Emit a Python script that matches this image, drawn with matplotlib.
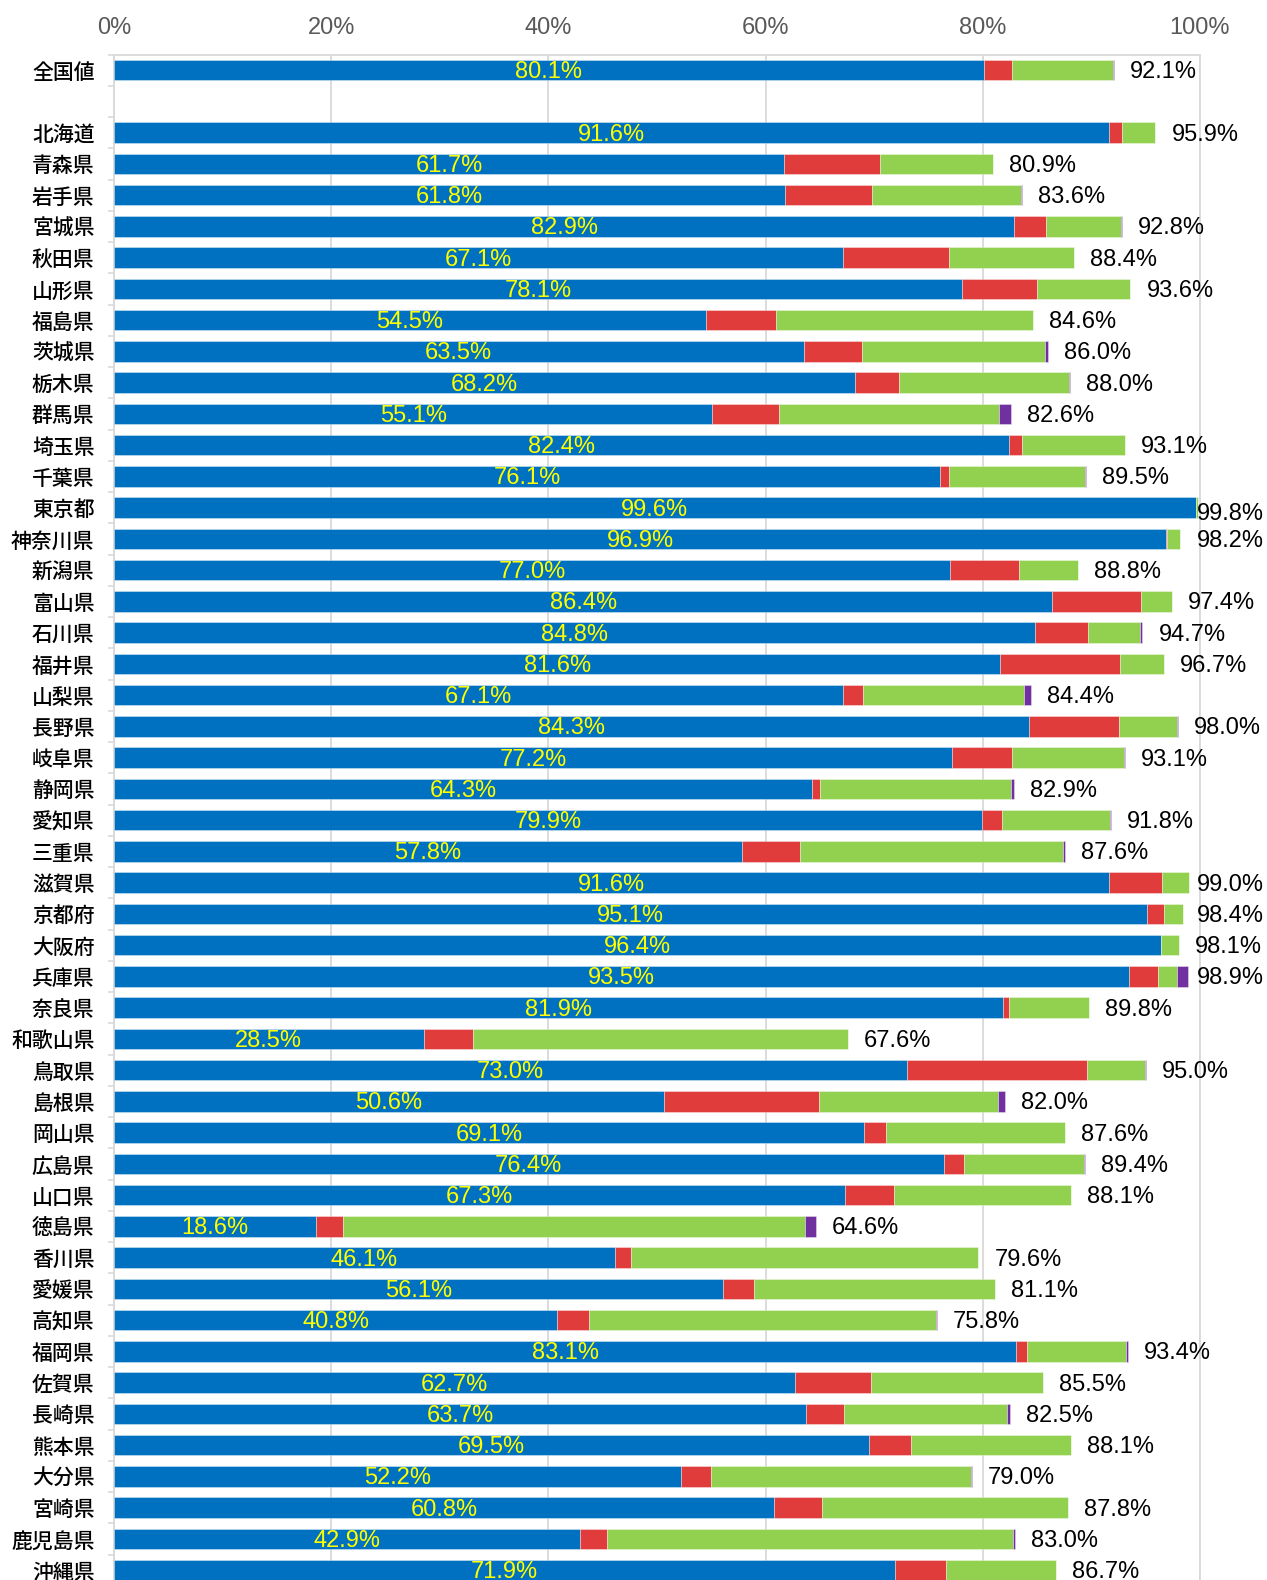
import matplotlib
matplotlib.use("Agg")
import matplotlib.pyplot as plt
from matplotlib.ticker import FixedLocator, FuncFormatter
import numpy as np

categories = ["全国値", "北海道", "青森県", "岩手県", "宮城県", "秋田県", "山形県", "福島県",
              "茨城県", "栃木県", "群馬県", "埼玉県", "千葉県", "東京都", "神奈川県",
              "新潟県", "富山県", "石川県", "福井県", "山梨県", "長野県", "岐阜県", "静岡県",
              "愛知県", "三重県", "滋賀県", "京都府", "大阪府", "兵庫県", "奈良県", "和歌山県",
              "鳥取県", "島根県", "岡山県", "広島県", "山口県", "徳島県", "香川県", "愛媛県",
              "高知県", "福岡県", "佐賀県", "長崎県", "熊本県", "大分県", "宮崎県", "鹿児島県",
              "沖縄県"]

blue = [80.1, 91.6, 61.7, 61.8, 82.9, 67.1, 78.1, 54.5, 63.5, 68.2, 55.1, 82.4, 76.1, 99.6, 96.9,
        77.0, 86.4, 84.8, 81.6, 67.1, 84.3, 77.2, 64.3, 79.9, 57.8, 91.6, 95.1, 96.4, 93.5, 81.9, 28.5,
        73.0, 50.6, 69.1, 76.4, 67.3, 18.6, 46.1, 56.1, 40.8, 83.1, 62.7, 63.7, 69.5, 52.2, 60.8, 42.9,
        71.9]
red = [2.6, 1.2, 8.8, 8.0, 2.9, 9.8, 6.9, 6.5, 5.4, 4.1, 6.1, 1.2, 0.8, 0.0, 0.1,
       6.3, 8.2, 4.9, 11.0, 1.9, 8.2, 5.5, 0.7, 1.9, 5.4, 4.9, 1.6, 0.0, 2.6, 0.5, 4.6,
       16.6, 14.3, 2.0, 1.9, 4.5, 2.5, 1.5, 2.8, 2.9, 1.0, 7.0, 3.5, 3.9, 2.8, 4.4, 2.5,
       4.7]
green = [9.3, 3.1, 10.4, 13.7, 6.9, 11.5, 8.6, 23.6, 16.8, 15.6, 20.3, 9.5, 12.5, 0.2, 1.2,
         5.5, 2.8, 4.8, 4.1, 14.8, 5.4, 10.3, 17.6, 9.9, 24.2, 2.5, 1.7, 1.7, 1.8, 7.4, 34.5,
         5.3, 16.5, 16.5, 11.0, 16.3, 42.5, 32.0, 22.2, 32.0, 9.1, 15.8, 15.0, 14.7, 23.9, 22.6, 37.4,
         10.1]
purple = [0.1, 0.0, 0.0, 0.1, 0.1, 0.0, 0.0, 0.0, 0.3, 0.1, 1.1, 0.0, 0.1, 0.0, 0.0,
          0.0, 0.0, 0.2, 0.0, 0.6, 0.1, 0.1, 0.3, 0.1, 0.2, 0.0, 0.0, 0.0, 1.0, 0.0, 0.0,
          0.1, 0.6, 0.0, 0.1, 0.0, 1.0, 0.0, 0.0, 0.1, 0.2, 0.0, 0.3, 0.0, 0.1, 0.0, 0.2,
          0.0]
totals = [92.1, 95.9, 80.9, 83.6, 92.8, 88.4, 93.6, 84.6, 86.0, 88.0, 82.6, 93.1, 89.5, 99.8, 98.2,
          88.8, 97.4, 94.7, 96.7, 84.4, 98.0, 93.1, 82.9, 91.8, 87.6, 99.0, 98.4, 98.1, 98.9, 89.8, 67.6,
          95.0, 82.0, 87.6, 89.4, 88.1, 64.6, 79.6, 81.1, 75.8, 93.4, 85.5, 82.5, 88.1, 79.0, 87.8, 83.0,
          86.7]
xticks = [0, 20, 40, 60, 80, 100]

C_BLUE = "#0070C0"
C_RED = "#E03C3C"
C_GREEN = "#92D050"
C_PURPLE = "#7030A0"
GRID = "#D9D9D9"

JP = ["Noto Sans CJK JP", "DejaVu Sans"]
NUM = ["Liberation Sans", "DejaVu Sans"]

W, H = 1267, 1580
fig = plt.figure(figsize=(W / 100, H / 100), dpi=100)
top_px = 54.5
row_px = 31.25
nslots = len(categories) + 1
ax_h = nslots * row_px
ax = fig.add_axes([114 / W, 1 - (top_px + ax_h) / H, (1200 - 114) / W, ax_h / H])

b = np.array(blue)
r = np.array(red)
g = np.array(green)
p = np.array(purple)
ypos = np.array([0] + [i + 1 for i in range(1, len(categories))], dtype=float)

bh = 0.66
ekw = dict(edgecolor=(1, 1, 1, 0.5), linewidth=0.5, zorder=3)
ax.barh(ypos, b, height=bh, color=C_BLUE, **ekw)
ax.barh(ypos, r, left=b, height=bh, color=C_RED, **ekw)
ax.barh(ypos, g, left=b + r, height=bh, color=C_GREEN, **ekw)
ax.barh(ypos, p, left=b + r + g, height=bh, color=C_PURPLE, **ekw)

gap = 16 / 1086 * 100      # 16 px gap expressed in axis units
cap = 99.75                # labels are kept inside the chart area
ends = b + r + g + p
for y, bv, e, t in zip(ypos, b, ends, totals):
    ax.annotate(f"{bv:.1f}%", xy=(bv / 2, y), xytext=(0, -1.5), textcoords="offset points",
                color="#FFFF00", ha="center", va="center", fontsize=17, family=NUM, zorder=5)
    lx = min(e + gap, cap)
    dy = -4.5 if e > 99.5 else -1.5
    ax.annotate(f"{t:.1f}%", xy=(lx, y), xytext=(0, dy), textcoords="offset points",
                ha="left", va="center", fontsize=17, family=NUM, color="black",
                annotation_clip=False, zorder=5)

ax.set_xlim(0, 100)
ax.set_ylim(nslots - 0.5, -0.5)

ax.xaxis.set_ticks_position("top")
ax.set_xticks(xticks)
ax.xaxis.set_major_formatter(FuncFormatter(lambda v, pos: f"{v:.0f}%"))
ax.tick_params(axis="x", which="both", length=0, pad=11.5, labelsize=17, labelcolor="#595959")
for lab in ax.get_xticklabels():
    lab.set_fontfamily(NUM)
ax.grid(axis="x", color=GRID, linewidth=1.3, zorder=0)
ax.set_axisbelow(True)

ax.set_yticks(ypos)
ax.set_yticklabels(categories, fontfamily=JP, fontsize=15, fontweight="medium")
ax.yaxis.set_minor_locator(FixedLocator(np.arange(-0.5, nslots, 1.0)))
ax.tick_params(axis="y", which="major", length=0, pad=14)
ax.tick_params(axis="y", which="minor", length=4, width=1.2, color=GRID)

for s in ["top", "left", "right"]:
    ax.spines[s].set_color(GRID)
    ax.spines[s].set_linewidth(1.3)
ax.spines["bottom"].set_visible(False)

fig.savefig("out.png", dpi=100, facecolor="white")
